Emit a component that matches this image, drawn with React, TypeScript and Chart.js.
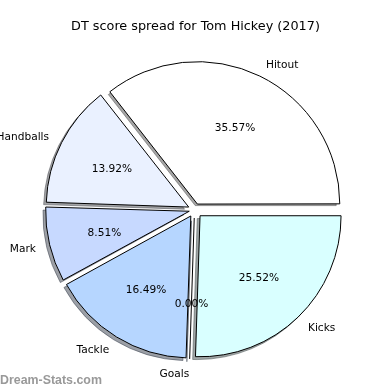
import React, { useEffect, useRef } from "react";
import { Chart, registerables } from "chart.js";

Chart.register(...registerables);

// Data (clockwise from 3 o'clock, mirroring matplotlib's counter-clockwise order)
const categories = ["Kicks", "Goals", "Tackle", "Mark", "Handballs", "Hitout"];
const percentages = [25.52, 0.0, 16.49, 8.51, 13.92, 35.57];
const sliceColors = ["#d9ffff", "#b0d4ff", "#b6d6ff", "#c7d9ff", "#eaf1ff", "#ffffff"];
const titleText = "DT score spread for Tom Hickey (2017)";
const watermarkText = "Dream-Stats.com";

const EXPLODE = 8;
const RADIUS = 141;
const SHADOW_DX = -2.8;
const SHADOW_DY = 2.8;
const TEXT_DY = 1.5;

function hexToRgb(h: string) {
  const v = h.replace("#", "");
  return [parseInt(v.slice(0, 2), 16), parseInt(v.slice(2, 4), 16), parseInt(v.slice(4, 6), 16)];
}

function explodedCenter(el: any) {
  const mid = (el.startAngle + el.endAngle) / 2;
  return { cx: el.x + Math.cos(mid) * EXPLODE, cy: el.y + Math.sin(mid) * EXPLODE, mid };
}

const shadowPlugin = {
  id: "pieShadow",
  beforeDatasetsDraw(chart: any) {
    const ctx = chart.ctx;
    const meta = chart.getDatasetMeta(0);
    const bg = chart.data.datasets[0].backgroundColor as string[];
    meta.data.forEach((el: any, i: number) => {
      const { cx, cy } = explodedCenter(el);
      const [r, g, b] = hexToRgb(bg[i]);
      const col = `rgba(${Math.round(r * 0.3)},${Math.round(g * 0.3)},${Math.round(b * 0.3)},0.5)`;
      const x = cx + SHADOW_DX;
      const y = cy + SHADOW_DY;
      ctx.save();
      ctx.beginPath();
      ctx.moveTo(x, y);
      ctx.arc(x, y, el.outerRadius, el.startAngle, el.endAngle);
      ctx.closePath();
      ctx.fillStyle = col;
      ctx.strokeStyle = col;
      ctx.lineWidth = 1;
      ctx.fill();
      ctx.stroke();
      ctx.restore();
    });
  },
};

const textPlugin = {
  id: "pieText",
  afterDatasetsDraw(chart: any) {
    const ctx = chart.ctx;
    const meta = chart.getDatasetMeta(0);
    const values = chart.data.datasets[0].data as number[];
    const labels = chart.data.labels as string[];
    ctx.save();
    meta.data.forEach((el: any, i: number) => {
      const { cx, cy, mid } = explodedCenter(el);
      const r = el.outerRadius;
      // zero-width wedge drawn as a line (Chart.js skips it)
      if (el.endAngle - el.startAngle < 1e-6) {
        ctx.beginPath();
        ctx.moveTo(cx, cy);
        ctx.lineTo(cx + Math.cos(mid) * r, cy + Math.sin(mid) * r);
        ctx.strokeStyle = "#000";
        ctx.lineWidth = 1;
        ctx.stroke();
      }
      ctx.fillStyle = "#000";
      ctx.font = '10.6px "DejaVu Sans"';
      ctx.textBaseline = "middle";
      ctx.textAlign = "center";
      ctx.fillText(
        values[i].toFixed(2) + "%",
        cx + Math.cos(mid) * r * 0.6,
        cy + Math.sin(mid) * r * 0.6 + TEXT_DY
      );
      const lx = cx + Math.cos(mid) * r * 1.1;
      const ly = cy + Math.sin(mid) * r * 1.1 + TEXT_DY;
      ctx.textAlign = Math.cos(mid) > 0 ? "left" : "right";
      ctx.fillText(labels[i], lx, ly);
    });
    // title
    ctx.font = '12.8px "DejaVu Sans"';
    ctx.textAlign = "center";
    ctx.textBaseline = "middle";
    ctx.fillStyle = "#000";
    ctx.fillText(titleText, 195.5, 26.5);
    // watermark
    ctx.font = 'bold 12.4px "Liberation Sans"';
    ctx.textAlign = "left";
    ctx.fillStyle = "#999999";
    ctx.fillText(watermarkText, 0, 381);
    ctx.restore();
  },
};

export default function App() {
  const ref = useRef<HTMLCanvasElement | null>(null);
  useEffect(() => {
    if (!ref.current) return;
    const chart = new Chart(ref.current, {
      type: "pie",
      data: {
        labels: categories,
        datasets: [
          {
            data: percentages,
            backgroundColor: sliceColors,
            borderColor: "#000",
            borderWidth: 1,
            clip: false as any,
            offset: (c: any) => {
              const data = c.dataset.data as number[];
              const total = data.reduce((a, b) => a + b, 0);
              if (c.dataIndex === undefined) return EXPLODE * 2;
              const circ = (data[c.dataIndex] / total) * Math.PI * 2;
              const fix = 1 - Math.sin(Math.min(Math.PI, circ));
              return (EXPLODE * 4) / (1 + fix);
            },
          } as any,
        ],
      },
      options: {
        responsive: false,
        animation: false,
        events: [],
        rotation: 90,
        radius: RADIUS,
        layout: { padding: { left: 0, right: 1, top: 30, bottom: 0 } },
        plugins: { legend: { display: false }, tooltip: { enabled: false }, title: { display: false } },
      } as any,
      plugins: [shadowPlugin, textPlugin],
    });
    return () => chart.destroy();
  }, []);
  return (
    <div style={{ position: "fixed", left: 0, top: 0, width: 390, height: 390, background: "#fff" }}>
      <canvas ref={ref} width={390} height={390} style={{ width: 390, height: 390, display: "block" }} />
    </div>
  );
}
